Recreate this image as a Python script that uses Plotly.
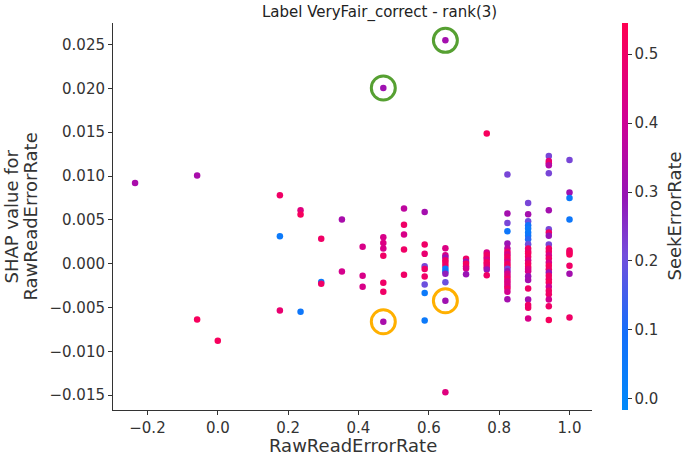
import plotly.graph_objects as go

# SHAP dependence data (grouped by RawReadErrorRate column)
raw_read_error_rate = (
    [-0.2353]
    + [-0.0588] * 2
    + [0.0]
    + [0.1765] * 3
    + [0.2353] * 3
    + [0.2941] * 3
    + [0.3529] * 2
    + [0.4118] * 3
    + [0.4706] * 8
    + [0.5294] * 5
    + [0.5882] * 9
    + [0.6471] * 13
    + [0.7059] * 6
    + [0.7647] * 10
    + [0.8235] * 24
    + [0.8824] * 25
    + [0.9412] * 27
    + [1.0] * 10
)

shap_values = [
    0.0092,
    0.01005, -0.00637,
    -0.0088,
    0.0078, 0.00314, -0.00534,
    0.0061, 0.0056, -0.0055,
    0.00283, -0.0021, -0.0023,
    0.00504, -0.00089,
    0.00192, -0.00139, -0.00264,
    0.02004, 0.00302, 0.00237, 0.00173, 0.00089, -0.00219, -0.00321, -0.00663,
    0.0063, 0.00443, 0.00333, 0.00162, -0.00128,
    0.0059, 0.00219, 0.00112, -0.00029, -0.0006, -0.00146, -0.00237, -0.00336, -0.00648,
    0.02548, 0.00177, 0.00097, 0.0007, 0.0004, 0.00011, -0.00023, -0.00057, -0.00091,
    -0.00114, -0.00211, -0.00424, -0.01468,
    0.00057, 0.00023, 0.0, -0.00029, -0.00055, -0.0012,
    0.01484, 0.00128, 0.001, 0.00074, 0.00046, 0.00017, -0.00011, -0.0004, -0.00068, -0.00131,
    0.01017, 0.00572, 0.00465, 0.00371, 0.0023, 0.00173, 0.00135, 0.00108, 0.0008, 0.00051,
    0.00023, -0.00006, -0.00034, -0.00057, -0.00086, -0.00114, -0.00143, -0.00171, -0.002,
    -0.00228, -0.00257, -0.00285, -0.00321, -0.00405,
    0.00693, 0.00564, 0.00485, 0.00439, 0.00401, 0.00356, 0.00317, 0.00279, 0.00222, 0.00173,
    0.0014, 0.00116, 0.00078, 0.0004, 0.00002, -0.00036, -0.0006, -0.00086, -0.00143, -0.00188,
    -0.00283, -0.00408, -0.00473, -0.00503, -0.00625,
    0.01229, 0.01172, 0.01145, 0.01123, 0.01032, 0.0061, 0.00393, 0.00356, 0.00317, 0.00218,
    0.00173, 0.00135, 0.00097, 0.00059, 0.00014, -0.00025, -0.00063, -0.001, -0.00139,
    -0.00177, -0.00214, -0.00265, -0.0031, -0.00348, -0.00408, -0.00485, -0.00644,
    0.01184, 0.00812, 0.0075, 0.00504, 0.0015, 0.00128, 0.00105, -0.00025, -0.00116, -0.00614,
]

seek_error_rate = [
    0.33,
    0.33, 0.52,
    0.52,
    0.50, 0.05, 0.48,
    0.45, 0.52, 0.06,
    0.50, 0.05, 0.50,
    0.33, 0.42,
    0.43, 0.43, 0.43,
    0.31, 0.43, 0.44, 0.43, 0.50, 0.50, 0.50, 0.33,
    0.37, 0.50, 0.43, 0.50, 0.50,
    0.32, 0.50, 0.48, 0.22, 0.50, 0.50, 0.20, 0.05, 0.05,
    0.32, 0.44, 0.43, 0.30, 0.50, 0.50, 0.50, 0.05, 0.08,
    0.28, 0.20, 0.31, 0.45,
    0.50, 0.30, 0.52, 0.50, 0.43, 0.30,
    0.52, 0.43, 0.50, 0.50, 0.43, 0.52, 0.50, 0.48, 0.30, 0.50,
    0.22, 0.32, 0.22, 0.06, 0.30, 0.36, 0.50, 0.43, 0.50, 0.50,
    0.43, 0.52, 0.50, 0.22, 0.30, 0.43, 0.45, 0.50, 0.43,
    0.45, 0.43, 0.50, 0.42, 0.32,
    0.22, 0.32, 0.20, 0.08, 0.05, 0.05, 0.07, 0.12, 0.20, 0.50,
    0.48, 0.52, 0.50, 0.43, 0.50, 0.52, 0.45, 0.43, 0.30, 0.32,
    0.50, 0.32, 0.50, 0.50, 0.43,
    0.22, 0.45, 0.50, 0.35, 0.22, 0.32, 0.22, 0.50, 0.30, 0.22,
    0.50, 0.50, 0.43, 0.50, 0.43, 0.52, 0.50, 0.30, 0.50,
    0.50, 0.52, 0.40, 0.50, 0.50, 0.42, 0.50, 0.52,
    0.22, 0.31, 0.05, 0.06, 0.50, 0.50, 0.52, 0.50, 0.32, 0.50,
]

# circled points
highlight_x = [0.4706, 0.6471, 0.4706, 0.6471]
highlight_y = [0.02004, 0.02548, -0.00663, -0.00424]
highlight_color = ["#56a032", "#56a032", "#ffb000", "#ffb000"]

x_ticks = [-0.2, 0.0, 0.2, 0.4, 0.6, 0.8, 1.0]
y_ticks = [-0.015, -0.010, -0.005, 0.0, 0.005, 0.010, 0.015, 0.020, 0.025]
cbar_ticks = [0.0, 0.1, 0.2, 0.3, 0.4, 0.5]

# approximation of shap's red_blue colormap
red_blue = [
    [0.0, "rgb(0,138,250)"],
    [0.2, "rgb(20,110,250)"],
    [0.4, "rgb(115,78,220)"],
    [0.55, "rgb(150,20,182)"],
    [0.75, "rgb(208,0,148)"],
    [1.0, "rgb(255,0,81)"],
]

FONT = "DejaVu Sans"
INK = "#333333"

fig = go.Figure()
fig.add_trace(go.Scatter(
    x=raw_read_error_rate,
    y=shap_values,
    mode="markers",
    marker=dict(
        size=6.5,
        color=seek_error_rate,
        colorscale=red_blue,
        cmin=-0.016,
        cmax=0.545,
        line=dict(width=0),
        colorbar=dict(
            x=1.062, xanchor="left", y=0.5, yanchor="middle",
            len=1.0, thickness=6, ypad=0, xpad=0,
            outlinewidth=0,
            tickvals=cbar_ticks, tickformat=".1f",
            ticks="outside", ticklen=4, tickwidth=1, tickcolor=INK,
            tickfont=dict(family=FONT, size=15, color=INK),
        ),
    ),
    showlegend=False,
))
fig.add_trace(go.Scatter(
    x=highlight_x,
    y=highlight_y,
    mode="markers",
    marker=dict(symbol="circle-open", size=24, color=highlight_color,
                line=dict(width=3)),
    showlegend=False,
    hoverinfo="skip",
))

fig.update_layout(
    width=685, height=457,
    margin=dict(l=113, r=93, t=23, b=47, autoexpand=False),
    paper_bgcolor="white", plot_bgcolor="white",
    font=dict(family=FONT, color=INK),
    annotations=[
        dict(text="Label VeryFair_correct - rank(3)", x=0.557, y=1, xref="paper",
             yref="paper", xanchor="center", yanchor="middle", yshift=11,
             showarrow=False, font=dict(size=15, color="#222222")),
        dict(text="SHAP value for", x=0, y=0.5, xref="paper",
             yref="paper", xanchor="center", yanchor="middle", xshift=-102,
             textangle=-90, showarrow=False, font=dict(size=18, color=INK)),
        dict(text="RawReadErrorRate", x=0, y=0.5, xref="paper",
             yref="paper", xanchor="center", yanchor="middle", xshift=-83,
             textangle=-90, showarrow=False, font=dict(size=18, color=INK)),
        dict(text="RawReadErrorRate", x=0.5, y=0, xref="paper", yref="paper",
             xanchor="center", yanchor="middle", yshift=-35,
             showarrow=False, font=dict(size=18, color=INK)),
        dict(text="SeekErrorRate", x=1, y=0.5, xref="paper", yref="paper",
             xanchor="center", yanchor="middle", xshift=82,
             textangle=-90, showarrow=False, font=dict(size=18, color=INK)),
    ],
)
fig.update_xaxes(
    range=[-0.298, 1.064], tickvals=x_ticks, tickformat=".1f",
    showgrid=False, zeroline=False, showline=True, linecolor=INK, linewidth=1,
    ticks="outside", ticklen=4, tickcolor=INK, automargin=False,
    tickfont=dict(family=FONT, size=15, color=INK),
)
fig.update_yaxes(
    range=[-0.0167, 0.02746], tickvals=y_ticks, tickformat=".3f",
    showgrid=False, zeroline=False, showline=True, linecolor=INK, linewidth=1,
    ticks="outside", ticklen=4, tickcolor=INK, automargin=False,
    tickfont=dict(family=FONT, size=15, color=INK),
)

# the page's default 8px body margin would push the fixed-size figure off the window
fig.write_html(
    "out.html",
    config={"displayModeBar": False},
    post_script="document.body.style.margin = '0';",
)
